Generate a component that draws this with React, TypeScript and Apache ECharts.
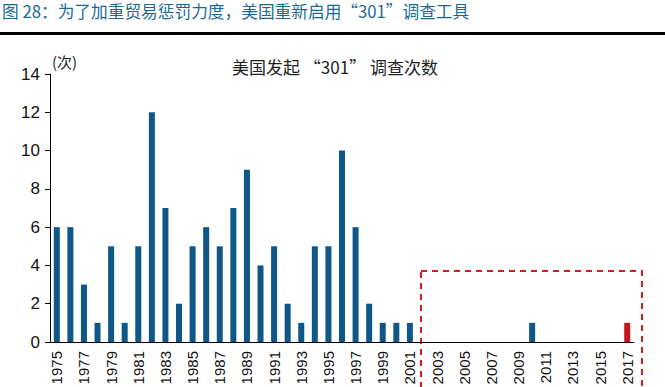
import React, { useEffect, useRef } from "react";
import * as echarts from "echarts";

const years: string[] = [];
for (let y = 1975; y <= 2017; y++) years.push(String(y));

const counts = [
  6, 6, 3, 1, 5, 1, 5, 12, 7, 2,
  5, 6, 5, 7, 9, 4, 5, 2, 1, 5,
  5, 10, 6, 2, 1, 1, 1, 0, 0, 0,
  0, 0, 0, 0, 0, 1, 0, 0, 0, 0,
  0, 0, 1,
];
const highlightYear = "2017";

const yTicks = { min: 0, max: 14, interval: 2 };

const titleText = "图 28：为了加重贸易惩罚力度，美国重新启用“301”调查工具";
const chartTitle = "美国发起 “301” 调查次数";
const unitLabel = "(次)";

const FONT = "'Liberation Sans', 'Noto Sans CJK SC', sans-serif";

export default function App() {
  const ref = useRef<HTMLDivElement>(null);
  useEffect(() => {
    if (!ref.current) return;
    const chart = echarts.init(ref.current, undefined, { renderer: "svg" });
    chart.setOption({
      animation: false,
      backgroundColor: "#ffffff",
      textStyle: { fontFamily: FONT },
      title: {
        text: chartTitle,
        left: 330,
        textAlign: "center",
        top: 53,
        textStyle: { fontSize: 17, fontWeight: "normal", color: "#222", fontFamily: "'Noto Sans CJK SC', sans-serif" },
      },
      grid: { left: 50, right: 31, top: 74, bottom: 45, containLabel: false, outerBoundsMode: "none" },
      xAxis: {
        type: "category",
        data: years,
        boundaryGap: true,
        axisLine: { lineStyle: { color: "#000", width: 1 } },
        axisTick: { interval: 1, length: 4, lineStyle: { color: "#000" } },
        axisLabel: { interval: 1, rotate: 90, fontSize: 15, color: "#111", margin: 9, fontFamily: FONT },
      },
      yAxis: {
        type: "value",
        min: yTicks.min,
        max: yTicks.max,
        interval: yTicks.interval,
        splitLine: { show: false },
        axisLine: { show: true, lineStyle: { color: "#000", width: 1 } },
        axisTick: { show: true, length: 5, lineStyle: { color: "#000" } },
        axisLabel: { fontSize: 17, color: "#111", margin: 10, fontFamily: FONT },
      },
      series: [
        {
          type: "bar",
          barWidth: 6,
          data: counts.map((v, i) => ({
            value: v,
            itemStyle: { color: years[i] === highlightYear ? "#c8141c" : "#0f5788" },
          })),
        },
      ],
      graphic: [
        {
          type: "text",
          left: 2,
          top: 3,
          style: { text: titleText, fontSize: 16.7, fill: "#1b6a93", fontFamily: "'Noto Sans CJK SC', sans-serif" },
        },
        {
          type: "rect",
          shape: { x: 0, y: 32, width: 665, height: 3 },
          style: { fill: "#000" },
        },
        {
          type: "text",
          left: 52,
          top: 54,
          style: { text: unitLabel, fontSize: 15, fill: "#222", fontFamily: "'Noto Sans CJK SC', sans-serif" },
        },
        {
          type: "rect",
          shape: { x: 421, y: 271, width: 221, height: 140 },
          style: { fill: "none", stroke: "#d01c24", lineWidth: 2, lineDash: [6, 5] },
        },
      ],
    });
    return () => chart.dispose();
  }, []);
  return (
    <div
      ref={ref}
      style={{ position: "fixed", left: 0, top: 0, width: 665, height: 387 }}
    />
  );
}
